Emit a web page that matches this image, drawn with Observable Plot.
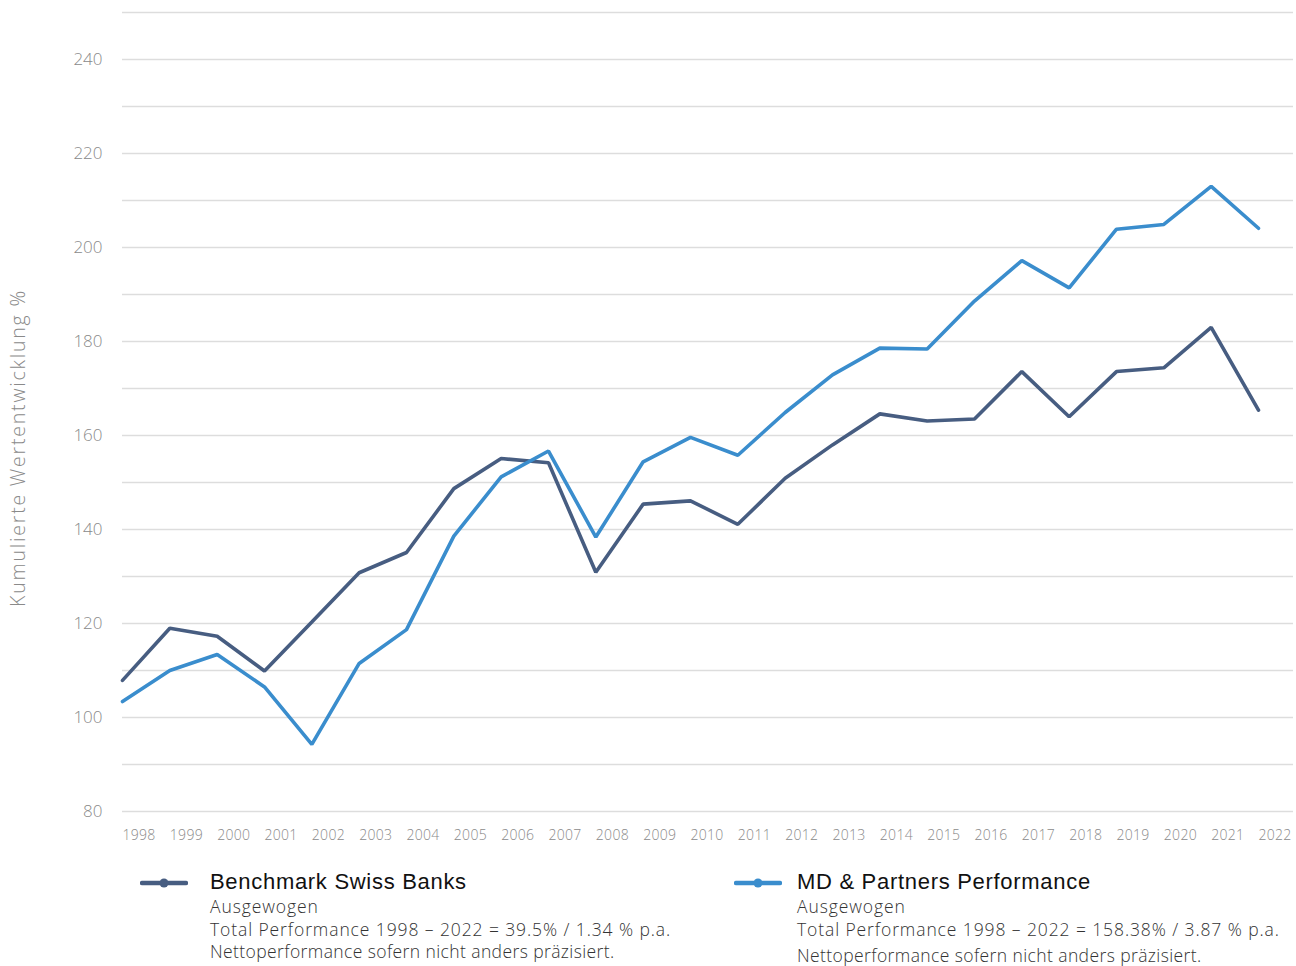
<!DOCTYPE html>
<html><head><meta charset="utf-8">
<script src="https://cdn.jsdelivr.net/npm/d3@7"></script>
<script src="https://cdn.jsdelivr.net/npm/@observablehq/plot@0.6"></script>
<style>
body{margin:0;background:#fff;font-family:"Open Sans",Roboto,sans-serif;}
#wrap{position:relative;width:1296px;height:966px;overflow:hidden;}
#chart{position:absolute;left:0;top:0;}
.leg{position:absolute;top:868px;white-space:nowrap;}
.leg .t{font-family:"Liberation Sans",Arial,sans-serif;font-size:22px;letter-spacing:0.7px;font-weight:400;color:#111;line-height:27px;}
.leg .s{font-family:"Open Sans",sans-serif;font-size:17.5px;letter-spacing:0.9px;font-weight:300;color:#333;line-height:22.5px;}
.leg .s.f{letter-spacing:0.4px;}
.leg svg{position:absolute;top:8px;}
</style></head><body>
<div id="wrap">
<div id="chart"></div>
<div class="leg" id="leg1" style="left:210px"></div>
<div class="leg" id="leg2" style="left:797px"></div>
</div>
<script>
const years = [1998,1999,2000,2001,2002,2003,2004,2005,2006,2007,2008,2009,2010,2011,2012,2013,2014,2015,2016,2017,2018,2019,2020,2021,2022];
const benchmark = [107.9,119.0,117.3,109.9,120.3,130.8,135.1,148.7,155.1,154.2,130.9,145.4,146.1,141.1,150.9,158.0,164.6,163.1,163.5,173.6,164.0,173.6,174.4,183.0,165.4];
const mdPartners = [103.4,110.0,113.4,106.5,94.3,111.5,118.7,138.6,151.2,156.7,138.4,154.4,159.6,155.8,164.9,172.9,178.6,178.4,188.6,197.2,191.4,203.9,204.9,213.0,204.1];
const yTickLabels = [80,100,120,140,160,180,200,220,240];
const yGridLines = [80,90,100,110,120,130,140,150,160,170,180,190,200,210,220,230,240,250];
const seriesNames = ["Benchmark Swiss Banks","MD & Partners Performance"];
const seriesColors = ["#475d81","#3a8dcd"];
const seriesSub = ["Ausgewogen","Ausgewogen"];
const seriesTotal = ["Total Performance 1998 – 2022 = 39.5% / 1.34 % p.a.","Total Performance 1998 – 2022 = 158.38% / 3.87 % p.a."];
const footNote = "Nettoperformance sofern nicht anders präzisiert.";
const yAxisTitle = "Kumulierte Wertentwicklung %";

const rows = [];
years.forEach((yr,i)=>{ rows.push({year:yr, value:benchmark[i], series:seriesNames[0]}); });
years.forEach((yr,i)=>{ rows.push({year:yr, value:mdPartners[i], series:seriesNames[1]}); });

const chart = Plot.plot({
  width:1296, height:850,
  marginLeft:122, marginRight:3, marginTop:12, marginBottom:39,
  style:{fontFamily:"'Open Sans', Roboto, sans-serif", background:"#fff"},
  x:{domain:[1998,2022], range:[122,1258]},
  y:{domain:[80,250], range:[811,12]},
  color:{domain:seriesNames, range:seriesColors},
  marks:[
    Plot.ruleY(yGridLines,{stroke:"#dddddd", strokeWidth:1.6}),
    Plot.axisY({ticks:yTickLabels, tickSize:0, tickPadding:20, fontSize:17, fontWeight:300, color:"#8a8a8a", label:null}),
    Plot.axisX({ticks:years, tickSize:0, tickPadding:19, fontSize:14, fontWeight:300, color:"#8a8a8a", textAnchor:"start", tickFormat:d=>String(d), label:null}),
    Plot.text([yAxisTitle],{frameAnchor:"left", text:d=>d, rotate:-90, textAnchor:"middle", dx:-104, dy:36, fontSize:19.5, fontWeight:300, fill:"#8a8a8a"}),
    Plot.line(rows,{x:"year", y:"value", stroke:"series", z:"series", strokeWidth:3.6, strokeLinejoin:"miter"})
  ]
});
document.getElementById("chart").appendChild(chart);
d3.select(chart).selectAll("text").each(function(){
  const t = this.textContent;
  if (t === yAxisTitle) d3.select(this).style("letter-spacing","1.8px");
  else if (years.map(String).includes(t)) d3.select(this).style("letter-spacing","0.3px");
});

function legend(id, i, symLeft, extraGap){
  const el = document.getElementById(id);
  el.innerHTML = `<svg width="48" height="14" style="left:${symLeft}px"><line x1="2" y1="7" x2="46" y2="7" stroke="${seriesColors[i]}" stroke-width="4.5" stroke-linecap="round"/><circle cx="24" cy="7" r="4.5" fill="${seriesColors[i]}"/></svg>`+
    `<div class="t">${seriesNames[i]}</div><div class="s">${seriesSub[i]}</div><div class="s">${seriesTotal[i]}</div><div class="s f" style="margin-top:${extraGap}px">${footNote}</div>`;
}
legend("leg1",0,-70,0);
legend("leg2",1,-63,4);
</script>
</body></html>
